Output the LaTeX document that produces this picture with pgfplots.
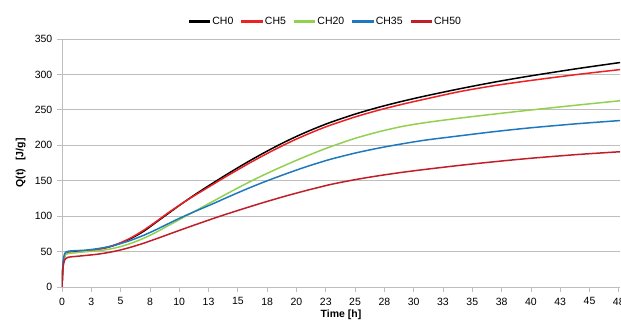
\documentclass[border=0pt]{standalone}
\usepackage{fontspec}
\setmainfont{Liberation Sans}
\usepackage{pgfplots}
\pgfplotsset{compat=1.18}
\definecolor{cblack}{RGB}{0,0,0}
\definecolor{cred}{RGB}{237,32,36}
\definecolor{cgreen}{RGB}{146,208,80}
\definecolor{cblue}{RGB}{30,120,190}
\definecolor{cdred}{RGB}{192,30,40}
\definecolor{gridgray}{RGB}{190,190,190}
\begin{document}
\fontsize{10.5pt}{12pt}\selectfont
\begin{tikzpicture}
\begin{axis}[
  scale only axis,
  width=558pt, height=248pt,
  xmin=0, xmax=47.6, ymin=0, ymax=350,
  axis lines*=left,
  axis line style={gridgray, line width=0.8pt},
  ymajorgrids, grid style={gridgray, line width=0.8pt},
  xtick={0,2.5,...,47.5},
  xticklabels={0,3,5,8,10,13,15,18,20,23,25,28,30,33,35,38,40,43,45,48},
  ytick={0,50,...,350},
  tick style={gridgray, line width=0.8pt},
  tick align=outside, major tick length=5pt,
  /pgf/number format/assume math mode=true,
  ticklabel style={font=\fontsize{10.5pt}{12pt}\selectfont},
  xticklabel style={yshift=-2pt},
  yticklabel style={xshift=-1pt},
  xlabel={\textbf{Time [h]}},
  ylabel={\textbf{Q(t)\hspace{0.8em}[J/g]}},
  xlabel style={yshift=2pt},
  ylabel style={yshift=2pt},
  legend columns=5,
  legend style={draw=none, at={(0.473,1)}, anchor=south, yshift=9pt,
    font=\fontsize{10.5pt}{12pt}\selectfont,
    /tikz/every even column/.append style={column sep=6pt}},
  legend image code/.code={\fill[#1] (0pt,-0.85pt) rectangle (20pt,0.85pt);},
  every axis plot/.append style={line width=1.5pt, smooth, tension=0.45},
  clip=true,
]
\addplot[color=cblack] coordinates {
(0,0) (0.05,20) (0.1,33) (0.2,43) (0.3,46.5) (0.5,48) (0.8,49) (1.2,49.6) (2,51) (3,53) (4,56.5) (5,62) (6,69.5) (7,79) (8,91) (9,103) (10,115) (11,126.5) (12,137.5) (13,148) (14,158.3) (15,168.3) (16,178) (17,187.3) (18,196.2) (19,204.6) (20,212.5) (21,219.8) (22,226.6) (23,232.9) (25,244) (27,253.6) (29,262) (31,269.6) (34,280) (37,289.5) (40,298) (44,308.3) (47.7,317)};
\addlegendentry{CH0}
\addplot[color=cred] coordinates {
(0,0) (0.05,20) (0.1,33) (0.2,42) (0.3,46) (0.5,47.5) (0.8,48.5) (1.2,49) (2,50.5) (3,53) (4,56.5) (5,62.5) (6,70.5) (7,80.5) (8,92) (9,104) (10,115.3) (11,126) (12,136) (13,146) (14,156) (15,165.5) (16,175) (17,184) (18,192.7) (19,201) (20,208.8) (21,216) (22,222.8) (23,229) (25,240) (27,249.5) (29,257.8) (31,265.3) (34,276) (37,284.5) (40,291.5) (44,300) (47.7,307)};
\addlegendentry{CH5}
\addplot[color=cgreen] coordinates {
(0,0) (0.05,20) (0.1,33) (0.2,42) (0.3,46) (0.5,47.5) (0.8,48) (1.2,48.5) (2,49.8) (3,51) (4,53.3) (5,57) (6,62.3) (7,69) (8,77) (9,86) (10,95) (11,104) (12,113) (13,122) (14,131) (15,139.8) (16,148.3) (17,156.5) (18,164.2) (19,171.6) (20,178.8) (21,185.7) (22,192.3) (23,198.5) (25,209.8) (27,219) (29,226.5) (31,232) (34,238.5) (37,244.3) (40,249.8) (44,256.8) (47.7,263)};
\addlegendentry{CH20}
\addplot[color=cblue] coordinates {
(0,0) (0.05,22) (0.1,36) (0.2,46) (0.3,49) (0.5,50.3) (0.8,51) (1.2,51.3) (2,52) (3,54) (4,57) (5,61.3) (6,66.7) (7,73.2) (8,80.7) (9,88.8) (10,96.8) (11,104.2) (12,111.3) (13,118.4) (14,125.8) (15,133) (16,140) (17,146.7) (18,153) (19,159.1) (20,165) (21,170.6) (22,175.8) (23,180.7) (25,189) (27,196) (29,202) (31,207.3) (34,213.5) (37,219.5) (40,224.7) (44,230.5) (47.7,235)};
\addlegendentry{CH35}
\addplot[color=cdred] coordinates {
(0,0) (0.05,18) (0.1,29) (0.2,37) (0.3,40) (0.5,41.8) (0.8,42.6) (1.2,43.2) (2,44.5) (3,46.2) (4,48.8) (5,52.3) (6,56.8) (7,62) (8,67.8) (9,73.8) (10,79.8) (11,85.7) (12,91.5) (13,97.2) (14,102.7) (15,108) (16,113.2) (17,118.3) (18,123.2) (19,128) (20,132.5) (21,136.9) (22,141) (23,145) (25,151.5) (27,157) (29,161.8) (31,166) (34,171.8) (37,177) (40,181.7) (44,187) (47.7,191)};
\addlegendentry{CH50}
\end{axis}
\pgfresetboundingbox
\path (-62pt,-39pt) rectangle (559pt,287pt);
\end{tikzpicture}
\end{document}
